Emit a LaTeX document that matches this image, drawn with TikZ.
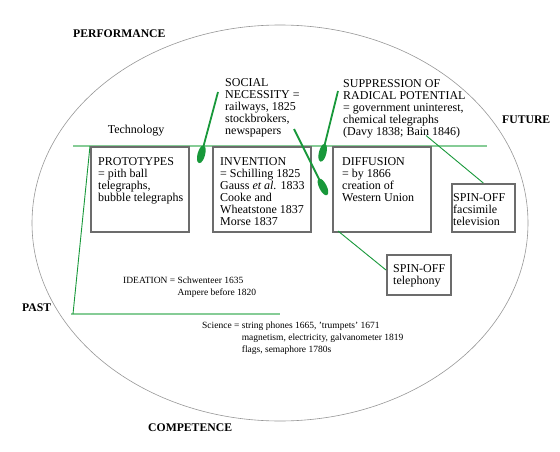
\documentclass[tikz,border=0pt]{standalone}
\usepackage{fontspec}
\setmainfont{Liberation Serif}
\usetikzlibrary{arrows.meta}
\definecolor{lightgr}{RGB}{134,204,150}
\definecolor{darkgr}{RGB}{24,152,58}
\definecolor{boxgray}{RGB}{108,108,108}
\definecolor{ellgray}{RGB}{150,150,150}
\tikzset{
  boxshape/.style={draw=boxgray, line width=1.6pt, inner sep=0pt, anchor=north west},
  boxtxt/.style={font=\fontsize{12}{12}\selectfont, align=left, inner sep=0pt, anchor=north west},
  smalltxt/.style={font=\fontsize{9.5}{11.7}\selectfont, align=left, inner sep=0pt, anchor=base west},
  biglab/.style={font=\fontsize{11.7}{12}\selectfont\bfseries, inner sep=0pt, anchor=base west},
  axisline/.style={draw=lightgr, line width=1.8pt},
  spoon/.style={draw=darkgr, line width=1.8pt, -{Ellipse[length=18pt,width=7.5pt]}},
  thinlink/.style={draw=darkgr, line width=0.9pt}
}
\begin{document}
\begin{tikzpicture}[x=1pt,y=-1pt]
\useasboundingbox (0,0) rectangle (560,452);
% outer ellipse
\draw[ellgray, line width=0.6pt] (280,223) ellipse [x radius=248, y radius=198];
% axis lines
\coordinate (techL) at (73,146);
\coordinate (techR) at (487,146);
\coordinate (sciL) at (71,314);
\coordinate (sciR) at (280,314);
\draw[axisline] (techL) -- (techR);
\draw[axisline] (sciL) -- (sciR);
\coordinate (slantTop) at (90,146);
\coordinate (slantBot) at (73,314);
\draw[thinlink] (slantBot) -- (slantTop);
% boxes
\node[boxshape, minimum width=98pt, minimum height=85pt] (proto) at (90,146) {};
\node[boxshape, minimum width=98pt, minimum height=85pt] (inv) at (212,146) {};
\node[boxshape, minimum width=98pt, minimum height=85pt] (diff) at (332,146) {};
\node[boxshape, minimum width=63pt, minimum height=48pt] (fax) at (451,183) {};
\node[boxshape, minimum width=64pt, minimum height=40pt] (tel) at (386,254) {};
% box texts
\node[boxtxt] (protoT) at (98,157) {PROTOTYPES\\= pith ball\\telegraphs,\\bubble telegraphs};
\node[boxtxt] (invT) at (220,157) {INVENTION\\= Schilling 1825\\Gauss \textit{et al.} 1833\\Cooke and\\Wheatstone 1837\\Morse 1837};
\node[boxtxt] (diffT) at (342,157) {DIFFUSION\\= by 1866\\creation of\\Western Union};
\node[boxtxt] (faxT) at (453,193) {SPIN-OFF\\facsimile\\television};
\node[boxtxt] (telT) at (393,264) {SPIN-OFF\\telephony};
% upper texts
\node[boxtxt] (social) at (225,78) {SOCIAL\\NECESSITY =\\railways, 1825\\stockbrokers,\\newspapers};
\node[boxtxt] (supp) at (343,79) {SUPPRESSION OF\\RADICAL POTENTIAL\\= government uninterest,\\chemical telegraphs\\(Davy 1838; Bain 1846)};
\node[font=\fontsize{12}{12}\selectfont, inner sep=0pt, anchor=base] (tech) at (136,133) {Technology};
% corner labels
\node[biglab] (perf) at (73,38) {PERFORMANCE};
\node[biglab] (fut) at (502,123) {FUTURE};
\node[biglab] (past) at (22,311) {PAST};
\node[biglab] (comp) at (148,431) {COMPETENCE};
% lower texts
\node[smalltxt] (idea) at (123,295) {IDEATION = Schwenteer 1635\\\hphantom{IDEATION = }Ampere before 1820};
\node[smalltxt] (sci) at (202,352) {Science = string phones 1665, 'trumpets' 1671\\\hphantom{Science = }magnetism, electricity, galvanometer 1819\\\hphantom{Science = }flags, semaphore 1780s};
% spoon connectors
\coordinate (s1a) at (218,92);
\coordinate (s1b) at (199,163);
\coordinate (s2a) at (338,91);
\coordinate (s2b) at (320.5,161.5);
\coordinate (s3a) at (294,129);
\coordinate (s3b) at (327,195);
\draw[spoon] (s1a) -- (s1b);
\draw[spoon] (s2a) -- (s2b);
\draw[spoon] (s3a) -- (s3b);
% spin-off links
\coordinate (l4a) at (426,135.5);
\coordinate (l5a) at (338,231);
\coordinate (l5b) at (386,270);
\draw[thinlink] (l4a) -- (fax.north);
\draw[thinlink] (l5a) -- (l5b);
\end{tikzpicture}
\end{document}
